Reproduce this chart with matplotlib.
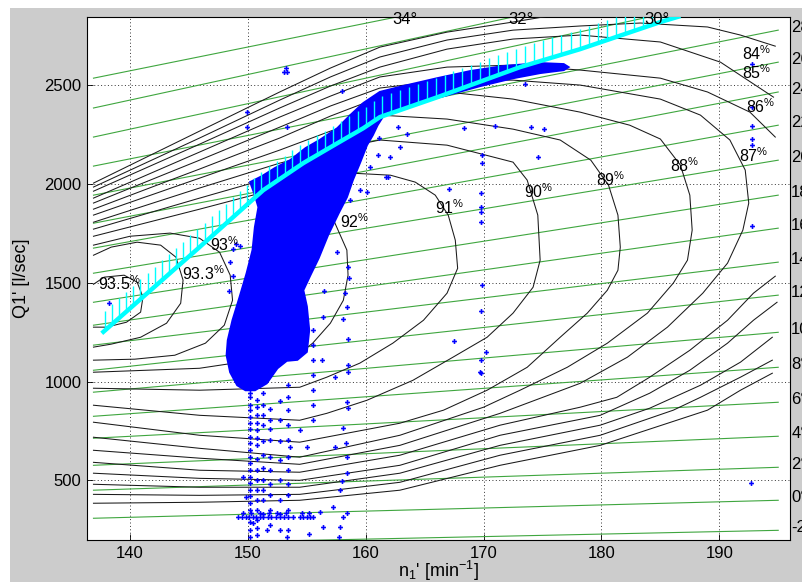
import matplotlib.pyplot as plt
import numpy as np
from matplotlib.patches import Polygon, Rectangle
from matplotlib.collections import LineCollection

plt.rcParams['font.family'] = ['Liberation Sans', 'DejaVu Sans']
plt.rcParams['mathtext.fontset'] = 'custom'
plt.rcParams['mathtext.rm'] = 'Liberation Sans'
plt.rcParams['mathtext.default'] = 'regular'

# guide vane opening lines (deg), Q1' at both ends of the measured n1' range
N_LEFT, N_RIGHT = 136.9, 195.0
vane_angle = [34, 32, 30, 28, 26, 24, 22, 20, 18, 16, 14, 12, 10, 8, 6, 4, 2, 0, -2]
vane_q_left = [2535, 2384, 2237, 2090, 1943, 1801, 1675, 1548, 1401, 1285,
               1184, 1057, 946, 824, 713, 576, 450, 308, 173]
vane_q_right = [3234, 3136, 2986, 2778, 2616, 2465, 2297, 2120, 1943, 1776,
                1604, 1437, 1249, 1072, 895, 723, 566, 399, 247]

# efficiency iso-lines (n1', Q1')
eta935_n = [136.9, 137.8, 139.5, 140.6, 141.1, 140.9, 139.7, 138.0, 136.9]
eta935_q = [1492, 1528, 1538, 1503, 1427, 1351, 1300, 1275, 1275]
eta933_n = [136.9, 138.4, 140.6, 142.6, 143.9, 144.5, 144.3, 143.1, 140.9, 138.4, 136.9]
eta933_q = [1639, 1680, 1705, 1690, 1629, 1513, 1396, 1295, 1224, 1189, 1174]
eta93_n = [136.9, 140.0, 143.4, 145.9, 147.6, 148.5, 148.7, 148.0, 146.4, 143.8, 140.4, 136.9]
eta93_q = [1690, 1735, 1751, 1725, 1654, 1538, 1411, 1285, 1194, 1133, 1113, 1108]
eta92_n = [136.9, 145.9, 152.7, 155.3, 157.2, 158.4, 158.5, 158.1, 157.0, 155.5, 154.4, 145.9, 136.9]
eta92_q = [1735, 1872, 1979, 1918, 1827, 1665, 1538, 1411, 1295, 1194, 1143, 1067, 1047]
eta91_n = [136.9, 145.9, 152.7, 157.0, 162.1, 164.2, 165.9, 167.0, 167.6, 167.8, 166.9,
           164.9, 162.3, 159.5, 156.7, 154.4, 145.9, 136.9]
eta91_q = [1771, 1928, 2044, 2060, 2044, 2009, 1943, 1842, 1715, 1573, 1447,
           1310, 1194, 1093, 1022, 971, 956, 966]
eta90_n = [136.9, 145.9, 152.7, 157.0, 161.2, 166.9, 172.5, 173.7, 174.6, 174.8, 174.2,
           172.5, 170.3, 167.4, 164.0, 160.1, 156.7, 154.4, 145.9, 136.9]
eta90_q = [1806, 1979, 2105, 2171, 2222, 2196, 2110, 2019, 1842, 1614, 1477,
           1346, 1224, 1123, 1006, 905, 839, 804, 829, 880]
eta89_n = [136.9, 145.9, 152.7, 157.0, 161.2, 166.9, 172.5, 176.5, 179.1, 180.6, 181.4, 181.6,
           181.4, 180.5, 178.8, 176.5, 173.7, 170.3, 166.6, 162.9, 154.4, 145.9, 136.9]
eta89_q = [1842, 2029, 2171, 2267, 2348, 2328, 2277, 2222, 2120, 1994, 1842, 1680,
           1563, 1462, 1346, 1224, 1072, 956, 855, 789, 693, 728, 794]
eta88_n = [136.9, 145.9, 152.7, 157.0, 161.2, 166.9, 172.5, 178.2, 182.4, 185.0, 186.7, 187.5,
           187.7, 187.3, 186.1, 183.9, 180.5, 177.1, 173.1, 170.0, 162.9, 154.4, 145.9, 136.9]
eta88_q = [1872, 2075, 2232, 2343, 2439, 2465, 2429, 2363, 2297, 2227, 2095, 1943,
           1766, 1614, 1498, 1346, 1194, 1072, 956, 870, 728, 617, 662, 718]
eta87_n = [136.9, 145.9, 152.7, 157.0, 161.2, 166.9, 172.5, 178.2, 185.0, 188.4, 190.9, 192.2,
           192.5, 192.0, 190.7, 188.6, 185.6, 182.2, 178.2, 171.4, 162.9, 154.4, 145.9, 136.9]
eta87_q = [1903, 2120, 2287, 2394, 2485, 2525, 2525, 2500, 2429, 2348, 2222, 2070,
           1903, 1766, 1599, 1447, 1275, 1123, 991, 839, 677, 581, 612, 652]
eta86_up_n = [136.9, 145.9, 152.7, 157.0, 161.2, 166.9, 172.5, 178.2, 185.0, 189.0, 192.6, 194.75]
eta86_up_q = [1928, 2161, 2338, 2444, 2541, 2591, 2601, 2576, 2535, 2465, 2363, 2237]
eta86_lo_n = [136.9, 145.9, 154.4, 162.9, 171.4, 178.2, 181.3, 184.1, 187.5, 190.7, 192.9, 194.75]
eta86_lo_q = [591, 551, 541, 627, 779, 870, 920, 1022, 1158, 1310, 1447, 1533]
eta85_up_n = [136.9, 145.9, 152.7, 157.0, 161.2, 166.9, 172.5, 178.2, 185.0, 190.1, 194.6]
eta85_up_q = [1963, 2201, 2384, 2495, 2591, 2682, 2733, 2753, 2718, 2616, 2439]
eta85_lo_n = [136.9, 145.9, 154.4, 162.9, 171.4, 179.9, 184.1, 187.5, 190.7, 192.9, 194.9]
eta85_lo_q = [536, 510, 500, 576, 728, 829, 941, 1057, 1194, 1310, 1401]
eta84_up_n = [136.9, 145.9, 152.7, 157.0, 161.2, 166.9, 172.5, 178.2, 183.3, 189.0, 191.8, 194.75]
eta84_up_q = [1984, 2232, 2424, 2541, 2642, 2728, 2778, 2799, 2814, 2794, 2753, 2697]
eta84_lo_n = [136.9, 145.9, 154.4, 162.9, 171.4, 179.9, 184.1, 188.4, 191.8, 194.5]
eta84_lo_q = [480, 465, 465, 536, 677, 779, 865, 981, 1098, 1224]
eta83_up_n = [136.9, 145.9, 152.7, 157.0, 161.2, 166.9, 172.5, 176.5]
eta83_up_q = [2004, 2267, 2465, 2586, 2692, 2768, 2819, 2859]
eta83_lo_n = [136.9, 145.9, 154.4, 162.9, 171.4, 179.9, 186.1, 188.4, 191.8, 194.5]
eta83_lo_q = [429, 424, 429, 490, 627, 728, 855, 920, 1022, 1108]
eta82_lo_n = [136.9, 145.9, 154.4, 162.9, 171.4, 179.9, 189.0, 191.8, 194.5]
eta82_lo_q = [384, 389, 399, 450, 576, 677, 855, 956, 1042]

label_text = ['93.5', '93.3', '93', '92', '91', '90', '89', '88', '87', '86', '85', '84']
label_n = [139.1, 146.2, 148.0, 159.1, 167.1, 174.7, 180.8, 187.1, 192.9, 193.5, 193.2, 193.2]
label_q = [1497, 1548, 1690, 1811, 1882, 1963, 2019, 2090, 2141, 2389, 2561, 2657]

# cavitation limit
cyan_n = [137.6, 145.9, 151.3, 154.7, 157.6, 159.8, 161.2, 166.1, 173.1, 178.2, 185.0, 186.7]
cyan_q = [1244, 1680, 1968, 2105, 2206, 2282, 2338, 2439, 2591, 2682, 2819, 2849]

# dense cloud of operating points (outline)
cloud_n = [150.2, 151.2, 152.3, 153.6, 154.9, 156.1, 157.6, 158.7, 159.8, 161.2, 163.2, 166.1,
           168.9, 171.7, 174.8, 176.8, 177.2, 176.8, 174.8, 172.5, 169.7, 166.9, 164.0, 161.7,
           161.0, 160.6, 160.1, 159.5, 158.9, 158.4, 157.7, 156.8, 156.0, 155.3, 154.7, 155.0,
           155.2, 155.0, 154.2, 153.3, 152.5, 151.6, 150.6, 149.8, 149.1, 148.5, 148.2,
           148.3, 148.7, 149.3, 149.9, 150.4, 150.6, 150.9, 150.6]
cloud_q = [2009, 2039, 2080, 2120, 2181, 2222, 2282, 2348, 2409, 2465, 2495, 2535,
           2571, 2596, 2611, 2606, 2591, 2576, 2561, 2535, 2495, 2449, 2404, 2363,
           2297, 2247, 2196, 2105, 2019, 1933, 1852, 1741, 1624, 1538, 1462, 1380,
           1260, 1150, 1110, 1105, 1067, 991, 956, 956, 981, 1047, 1133,
           1209, 1310, 1427, 1548, 1665, 1781, 1882, 1943]

# scattered operating points
scatter_n = [153.2, 153.3, 153.1, 149.9, 149.9, 153.3, 158.0,
             161.1, 161.0, 162.1, 161.7, 161.9, 160.4, 160.1, 159.5, 158.7,
             168.3, 171.0, 174.0, 175.1, 169.9, 169.9, 174.6, 167.1, 169.8, 169.8, 169.8, 169.8,
             169.9, 169.8, 167.5, 170.2, 169.8, 169.8, 169.7,
             192.8, 192.8, 192.8, 192.8, 192.8, 192.8, 192.7,
             173.5, 162.7, 163.5, 162.9,
             157.6, 158.5, 158.6, 158.2, 156.5, 158.4, 158.1, 156.4, 158.5, 156.3, 158.5, 158.5,
             157.4, 158.4, 158.5, 158.1, 158.3, 157.4, 158.4, 158.4, 158.0, 157.8, 157.2, 158.1,
             158.4, 157.8, 157.7, 156.4, 156.1, 155.2,
             155.5, 155.5, 155.5, 155.5, 155.5, 155.5, 155.5,
             149.0, 148.7, 149.3, 148.5, 148.7, 148.4, 138.2,
             150.2, 150.2, 150.2, 150.2, 150.2, 150.2, 150.2, 150.2, 150.2, 150.2,
             150.2, 150.2, 150.2, 150.2, 150.2, 150.2, 150.2, 150.2, 150.2, 150.2, 150.2, 150.2,
             150.8, 150.8, 150.8, 150.8, 150.8, 150.8, 150.8, 150.8,
             150.8, 150.8, 150.8, 150.8, 150.8, 150.8, 150.8, 150.8,
             151.3, 151.3, 151.3, 151.3, 151.3, 151.3, 151.3, 151.3, 151.3, 151.3, 151.3,
             151.9, 151.9, 151.9, 151.9, 151.9, 151.9, 151.9, 151.9, 151.9, 151.9,
             152.7, 152.7, 152.7, 152.7, 152.7, 152.7, 152.7, 152.7,
             153.4, 153.4, 153.4, 153.4, 153.4, 153.4, 153.4, 153.4, 153.4, 153.4, 153.4,
             149.2, 149.5, 149.8, 150.1, 150.4, 150.7, 151.0, 151.3, 151.7, 152.0,
             152.4, 152.7, 153.1, 153.4, 153.8, 154.4, 154.7, 155.0, 155.3, 155.5,
             149.6, 150.3, 151.0, 151.8, 152.5, 153.2, 154.6, 155.2,
             149.6, 149.8, 150.4, 151.6, 153.3, 154.4, 155.0, 153.6, 149.8]
scatter_q = [2586, 2566, 2566, 2363, 2287, 2287, 2470,
             2232, 2146, 2135, 2034, 2034, 2085, 1958, 1968, 1918,
             2282, 2292, 2287, 2277, 2146, 2105, 2135, 1973, 1953, 1882, 1857, 1806,
             1487, 1356, 1204, 1148, 1108, 1042, 1050,
             2606, 2389, 2292, 2227, 2196, 1786, 485,
             2505, 2287, 2252, 2186,
             1654, 1579, 1523, 1447, 1457, 1376, 1315, 1325, 1214, 1108, 1082, 1047,
             1022, 895, 865, 763, 687, 667, 617, 536, 495, 450, 363, 313,
             333, 262, 212, 262, 338, 227,
             1260, 1184, 1108, 1032, 956, 880, 804,
             1695, 1670, 1685, 1604, 1533, 1457, 1396,
             920, 855, 789, 718, 652, 586, 516, 450, 384, 247,
             940, 880, 820, 760, 690, 620, 550, 485, 420, 350, 290, 215,
             905, 829, 753, 677, 551, 450, 348, 222,
             870, 790, 715, 610, 500, 400, 300, 260,
             880, 779, 627, 500, 399, 940, 830, 700, 560, 450, 330,
             804, 703, 551, 424, 273, 860, 760, 620, 480, 350,
             804, 602, 399, 247, 900, 700, 500, 330,
             981, 855, 703, 551, 424, 247, 920, 780, 620, 480, 350,
             313, 313, 313, 313, 313, 313, 313, 313, 313, 313,
             313, 313, 313, 313, 313, 313, 313, 313, 313, 313,
             333, 333, 333, 333, 333, 333, 333, 333,
             516, 414, 283, 247, 212, 753, 667, 667, 1006]

x_ticks = [140, 150, 160, 170, 180, 190]
y_ticks = [500, 1000, 1500, 2000, 2500]

fig = plt.figure(figsize=(8.02, 5.82), dpi=100)
fig.patch.set_facecolor('white')
fig.patches.append(Rectangle((10 / 802, 0), 1, 574 / 582, transform=fig.transFigure,
                             facecolor=(0.8, 0.8, 0.8), edgecolor='none', zorder=-10))
ax = fig.add_axes([87 / 802, 42 / 582, 703 / 802, 523.3 / 582])
ax.set_xlim(136.35, 196.0)
ax.set_ylim(198, 2846)
ax.set_xticks(x_ticks)
ax.set_yticks(y_ticks)
ax.tick_params(direction='in', length=4, width=0.6, labelsize=12, pad=4)
for sp in ax.spines.values():
    sp.set_linewidth(0.8)
ax.grid(True, color='#333333', linestyle=(0, (1, 2.5)), linewidth=0.7)
ax.set_axisbelow(True)

# guide vane lines + their angle labels
q_top = ax.get_ylim()[1]
for ang, ql, qr in zip(vane_angle, vane_q_left, vane_q_right):
    ax.plot([N_LEFT, N_RIGHT], [ql, qr], color='#3fa63f', lw=0.8, zorder=2)
    if qr > q_top:
        n_exit = N_LEFT + (q_top - ql) / (qr - ql) * (N_RIGHT - N_LEFT)
        ax.text(n_exit + 0.6, q_top - 15, f'{ang}°', ha='center', va='center',
                fontsize=12, zorder=7)
    else:
        ax.text(196.1, qr + 15, f'{ang}°', ha='left', va='center',
                fontsize=12, clip_on=False, zorder=7)

# efficiency hill
contour_lines = [(eta935_n, eta935_q), (eta933_n, eta933_q), (eta93_n, eta93_q),
                 (eta92_n, eta92_q), (eta91_n, eta91_q), (eta90_n, eta90_q),
                 (eta89_n, eta89_q), (eta88_n, eta88_q), (eta87_n, eta87_q),
                 (eta86_up_n, eta86_up_q), (eta86_lo_n, eta86_lo_q),
                 (eta85_up_n, eta85_up_q), (eta85_lo_n, eta85_lo_q),
                 (eta84_up_n, eta84_up_q), (eta84_lo_n, eta84_lo_q),
                 (eta83_up_n, eta83_up_q), (eta83_lo_n, eta83_lo_q),
                 (eta82_lo_n, eta82_lo_q)]
for cn, cq in contour_lines:
    ax.plot(cn, cq, color='#1a1a1a', lw=0.75, zorder=3)

for txt, ln, lq in zip(label_text, label_n, label_q):
    ax.text(ln, lq, txt + r'$^{\%}$', ha='center', va='center', fontsize=11.5, zorder=7)

# measured operating points
ax.add_patch(Polygon(np.column_stack([cloud_n, cloud_q]), closed=True,
                     facecolor='#0000ff', edgecolor='#0000ff', lw=1.5, zorder=4))
ax.plot(scatter_n, scatter_q, linestyle='none', marker='P', ms=3.5,
        color='#0000ff', markeredgewidth=0, zorder=4)

# cavitation limit with hatch ticks
line_px = ax.transData.transform(np.column_stack([cyan_n, cyan_q]))
seg = np.hypot(*np.diff(line_px, axis=0).T)
arc = np.concatenate([[0], np.cumsum(seg)])
at = np.arange(4, arc[-1], 9.5)
px = np.interp(at, arc, line_px[:, 0])
py = np.interp(at, arc, line_px[:, 1])
inv = ax.transData.inverted()
base = inv.transform(np.column_stack([px, py]))
tip = inv.transform(np.column_stack([px, py + 20]))
ax.add_collection(LineCollection(np.stack([base, tip], axis=1), colors='#00ffff',
                                 linewidths=1.0, zorder=5))
ax.plot(cyan_n, cyan_q, color='#00ffff', lw=3.2, solid_capstyle='butt', zorder=5)

fig.text(438 / 802, 1 - 571 / 582, r"n$_1$' [min$^{-1}$]", ha='center', va='center', fontsize=13)
fig.text(22 / 802, 1 - 278 / 582, "Q1' [l/sec]", ha='center', va='center',
         rotation=90, fontsize=13)

fig.savefig('out.png', dpi=100, facecolor=fig.get_facecolor())
